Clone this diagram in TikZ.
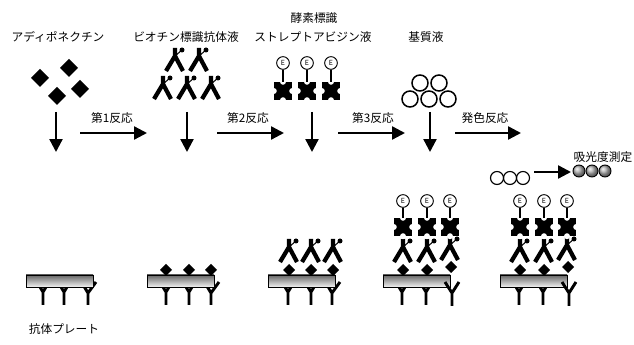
\documentclass[tikz,border=0pt]{standalone}
\usepackage{fontspec}
\setmainfont{Noto Sans CJK JP}
\usetikzlibrary{arrows.meta}

\begin{document}
\begin{tikzpicture}[x=0.03cm,y=-0.03cm,font=\fontsize{10}{12}\selectfont,
  arr/.style={line width=2pt,-{Triangle[length=11pt,width=11pt]}},
  abody/.style={line width=3.6pt},
  abarm/.style={line width=0.9pt},
  capab/.style={line width=2.5pt},
  stick/.style={line width=2.2pt},
  ecirc/.style={circle,draw,fill=white,line width=0.8pt,inner sep=0pt,minimum size=0.38cm,font=\fontsize{6}{6}\selectfont},
  sablock/.style={rectangle,fill=black,inner sep=0pt,minimum size=0.54cm},
  plate/.style={draw=black,line width=0.8pt,top color=black!60,bottom color=black!5},
  subst/.style={line width=1.3pt},
  absorb/.style={line width=0.8pt,ball color=black!30}]
\useasboundingbox (0,0) rectangle (634,345);

\node (tadipo) at (58,37) {アディポネクチン};
\node (tbiot) at (186,37) {ビオチン標識抗体液};
\node (tenz) at (314,18) {酵素標識};
\node (tstrep) at (313,37) {ストレプトアビジン液};
\node (tsubst) at (426,37) {基質液};

\fill (40,69) -- ++(9,9) -- ++(-9,9) -- ++(-9,-9) -- cycle;
\fill (69,59) -- ++(9,9) -- ++(-9,9) -- ++(-9,-9) -- cycle;
\fill (57,87) -- ++(9,9) -- ++(-9,9) -- ++(-9,-9) -- cycle;
\fill (80,80) -- ++(9,9) -- ++(-9,9) -- ++(-9,-9) -- cycle;

\draw[abody] (175,48) -- (175,56) -- (166,71) (175,56) -- (183,71);
\draw[abarm] (175,56) -- (182,50);
\fill (182,50) circle (2.5);
\draw[abody] (199,48) -- (199,56) -- (190,71) (199,56) -- (207,71);
\draw[abarm] (199,56) -- (206,50);
\fill (206,50) circle (2.5);
\draw[abody] (163,76) -- (163,84) -- (154,99) (163,84) -- (171,99);
\draw[abarm] (163,84) -- (170,78);
\fill (170,78) circle (2.5);
\draw[abody] (187,76) -- (187,84) -- (178,99) (187,84) -- (195,99);
\draw[abarm] (187,84) -- (194,78);
\fill (194,78) circle (2.5);
\draw[abody] (211,76) -- (211,84) -- (202,99) (211,84) -- (219,99);
\draw[abarm] (211,84) -- (218,78);
\fill (218,78) circle (2.5);

\node[sablock] (tb1) at (283,91) {};
\node[sablock] (tb2) at (307,91) {};
\node[sablock] (tb3) at (331,91) {};
\fill[white] (tb1.north) circle (3) (tb1.south) circle (3) (tb1.west) circle (3) (tb1.east) circle (3);
\fill[white] (tb2.north) circle (3) (tb2.south) circle (3) (tb2.west) circle (3) (tb2.east) circle (3);
\fill[white] (tb3.north) circle (3) (tb3.south) circle (3) (tb3.west) circle (3) (tb3.east) circle (3);
\node[ecirc] (te1) at (283,63) {E};
\node[ecirc] (te2) at (307,63) {E};
\node[ecirc] (te3) at (331,63) {E};
\draw[stick] (te1) -- (tb1.north);
\draw[stick] (te2) -- (tb2.north);
\draw[stick] (te3) -- (tb3.north);

\draw[subst] (420,83) circle (8);
\draw[subst] (439,83) circle (8);
\draw[subst] (410,99) circle (8);
\draw[subst] (429,99) circle (8);
\draw[subst] (448,99) circle (8);

\coordinate (v1a) at (56,112);
\coordinate (v1b) at (56,152);
\coordinate (v2a) at (187,112);
\coordinate (v2b) at (187,152);
\coordinate (v3a) at (312,112);
\coordinate (v3b) at (312,152);
\coordinate (v4a) at (430,112);
\coordinate (v4b) at (430,152);
\draw[arr] (v1a) -- (v1b);
\draw[arr] (v2a) -- (v2b);
\draw[arr] (v3a) -- (v3b);
\draw[arr] (v4a) -- (v4b);

\coordinate (h1a) at (80,133);
\coordinate (h1b) at (147,133);
\coordinate (h2a) at (217,133);
\coordinate (h2b) at (284,133);
\coordinate (h3a) at (338,133);
\coordinate (h3b) at (405,133);
\coordinate (h4a) at (455,133);
\coordinate (h4b) at (521,133);
\draw[arr] (h1a) -- (h1b);
\draw[arr] (h2a) -- (h2b);
\draw[arr] (h3a) -- (h3b);
\draw[arr] (h4a) -- (h4b);
\node (r1) at (112,118) {第1反応};
\node (r2) at (248,118) {第2反応};
\node (r3) at (373,118) {第3反応};
\node (r4) at (485,118) {発色反応};

\node (tabs) at (603,157) {吸光度測定};
\draw[subst,line width=1pt] (497,178) circle (6.5);
\draw[subst,line width=1pt] (510,178) circle (6.5);
\draw[subst,line width=1pt] (523,178) circle (6.5);
\coordinate (m1) at (534,172);
\coordinate (m2) at (571,172);
\draw[arr] (m1) -- (m2);
\shadedraw[absorb] (579,171) circle (6);
\shadedraw[absorb] (592,171) circle (6);
\shadedraw[absorb] (605,171) circle (6);

\draw[capab] (43,305) -- (43,292) -- (37,282) (43,292) -- (49,282);
\draw[capab] (64,305) -- (64,292) -- (58,282) (64,292) -- (70,282);
\draw[capab] (88,305) -- (88,293) -- (82,283) (88,293) -- (96,282);
\shadedraw[plate] (26,275) rectangle (93,287);
\node (tplate) at (64,329) {抗体プレート};

\draw[capab] (166,305) -- (166,292) -- (160,282) (166,292) -- (172,282);
\draw[capab] (189,305) -- (189,292) -- (183,282) (189,292) -- (195,282);
\draw[capab] (211,305) -- (211,293) -- (205,283) (211,293) -- (219,282);
\shadedraw[plate] (147,275) rectangle (214,287);
\fill (166,264) -- ++(6,6) -- ++(-6,6) -- ++(-6,-6) -- cycle;
\fill (189,264) -- ++(6,6) -- ++(-6,6) -- ++(-6,-6) -- cycle;
\fill (211,264) -- ++(6,6) -- ++(-6,6) -- ++(-6,-6) -- cycle;

\draw[capab] (288,305) -- (288,292) -- (282,282) (288,292) -- (294,282);
\draw[capab] (311,305) -- (311,292) -- (305,282) (311,292) -- (317,282);
\draw[capab] (332,305) -- (332,293) -- (326,283) (332,293) -- (340,282);
\shadedraw[plate] (268,275) rectangle (335,287);
\fill (289,264) -- ++(6,6) -- ++(-6,6) -- ++(-6,-6) -- cycle;
\fill (311,264) -- ++(6,6) -- ++(-6,6) -- ++(-6,-6) -- cycle;
\fill (333,264) -- ++(6,6) -- ++(-6,6) -- ++(-6,-6) -- cycle;
\draw[abody] (289,239) -- (289,247) -- (280,262) (289,247) -- (297,262);
\draw[abarm] (289,247) -- (296,241);
\fill (296,241) circle (2.5);
\draw[abody] (311,239) -- (311,247) -- (302,262) (311,247) -- (319,262);
\draw[abarm] (311,247) -- (318,241);
\fill (318,241) circle (2.5);
\draw[abody] (333,239) -- (333,247) -- (324,262) (333,247) -- (341,262);
\draw[abarm] (333,247) -- (340,241);
\fill (340,241) circle (2.5);

\draw[capab] (402,305) -- (402,292) -- (396,282) (402,292) -- (408,282);
\draw[capab] (426,305) -- (426,292) -- (420,282) (426,292) -- (432,282);
\shadedraw[plate] (383,275) rectangle (450,287);
\draw[capab] (452,306) -- (452,293) -- (445,282) (452,293) -- (459,282);
\fill (403,264) -- ++(6,6) -- ++(-6,6) -- ++(-6,-6) -- cycle;
\fill (427,264) -- ++(6,6) -- ++(-6,6) -- ++(-6,-6) -- cycle;
\fill (451,261) -- ++(6,6) -- ++(-6,6) -- ++(-6,-6) -- cycle;
\draw[abody] (403,239) -- (403,247) -- (394,262) (403,247) -- (411,262);
\draw[abarm] (403,247) -- (410,241);
\fill (410,241) circle (2.5);
\draw[abody] (427,239) -- (427,247) -- (418,262) (427,247) -- (435,262);
\draw[abarm] (427,247) -- (434,241);
\fill (434,241) circle (2.5);
\draw[abody] (450,237) -- (450,245) -- (441,260) (450,245) -- (458,260);
\draw[abarm] (450,245) -- (457,239);
\fill (457,239) circle (2.5);
\node[sablock] (b41) at (403,227) {};
\node[sablock] (b42) at (427,227) {};
\node[sablock] (b43) at (450,227) {};
\fill[white] (b41.north) circle (3) (b41.south) circle (3) (b41.west) circle (3) (b41.east) circle (3);
\fill[white] (b42.north) circle (3) (b42.south) circle (3) (b42.west) circle (3) (b42.east) circle (3);
\fill[white] (b43.north) circle (3) (b43.south) circle (3) (b43.west) circle (3) (b43.east) circle (3);
\node[ecirc] (e41) at (403,201) {E};
\node[ecirc] (e42) at (427,201) {E};
\node[ecirc] (e43) at (450,201) {E};
\draw[stick] (e41) -- (b41.north);
\draw[stick] (e42) -- (b42.north);
\draw[stick] (e43) -- (b43.north);

\draw[capab] (519,305) -- (519,292) -- (513,282) (519,292) -- (525,282);
\draw[capab] (543,305) -- (543,292) -- (537,282) (543,292) -- (549,282);
\shadedraw[plate] (500,275) rectangle (567,287);
\draw[capab] (569,306) -- (569,293) -- (562,282) (569,293) -- (576,282);
\fill (520,264) -- ++(6,6) -- ++(-6,6) -- ++(-6,-6) -- cycle;
\fill (544,264) -- ++(6,6) -- ++(-6,6) -- ++(-6,-6) -- cycle;
\fill (568,261) -- ++(6,6) -- ++(-6,6) -- ++(-6,-6) -- cycle;
\draw[abody] (520,239) -- (520,247) -- (511,262) (520,247) -- (528,262);
\draw[abarm] (520,247) -- (527,241);
\fill (527,241) circle (2.5);
\draw[abody] (544,239) -- (544,247) -- (535,262) (544,247) -- (552,262);
\draw[abarm] (544,247) -- (551,241);
\fill (551,241) circle (2.5);
\draw[abody] (567,237) -- (567,245) -- (558,260) (567,245) -- (575,260);
\draw[abarm] (567,245) -- (574,239);
\fill (574,239) circle (2.5);
\node[sablock] (b51) at (520,227) {};
\node[sablock] (b52) at (544,227) {};
\node[sablock] (b53) at (567,227) {};
\fill[white] (b51.north) circle (3) (b51.south) circle (3) (b51.west) circle (3) (b51.east) circle (3);
\fill[white] (b52.north) circle (3) (b52.south) circle (3) (b52.west) circle (3) (b52.east) circle (3);
\fill[white] (b53.north) circle (3) (b53.south) circle (3) (b53.west) circle (3) (b53.east) circle (3);
\node[ecirc] (e51) at (520,201) {E};
\node[ecirc] (e52) at (544,201) {E};
\node[ecirc] (e53) at (567,201) {E};
\draw[stick] (e51) -- (b51.north);
\draw[stick] (e52) -- (b52.north);
\draw[stick] (e53) -- (b53.north);
\end{tikzpicture}
\end{document}
